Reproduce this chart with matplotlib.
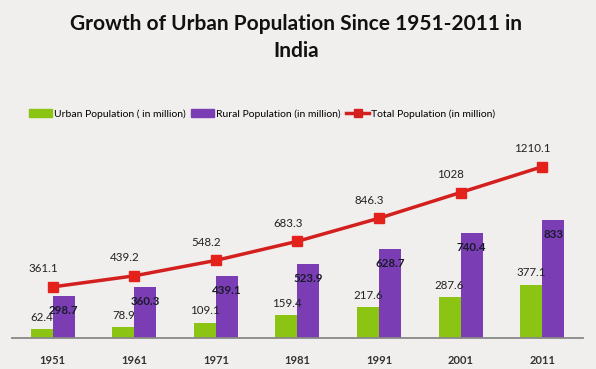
import matplotlib
matplotlib.use("Agg")
import numpy as np
from matplotlib import pyplot as plt
from matplotlib.patches import Patch
from matplotlib.lines import Line2D

# data
years = ["1951", "1961", "1971", "1981", "1991", "2001", "2011"]
urban = [62.4, 78.9, 109.1, 159.4, 217.6, 287.6, 377.1]
rural = [298.7, 360.3, 439.1, 523.9, 628.7, 740.4, 833]
total = [361.1, 439.2, 548.2, 683.3, 846.3, 1028, 1210.1]
urban_labels = ["62.4", "78.9", "109.1", "159.4", "217.6", "287.6", "377.1"]
rural_labels = ["298.7", "360.3", "439.1", "523.9", "628.7", "740.4", "833"]
total_labels = ["361.1", "439.2", "548.2", "683.3", "846.3", "1028", "1210.1"]

BG = "#f0efed"
GREEN = "#8cc414"
PURPLE = "#7a3db4"
RED = "#d41f1f"

plt.rcParams["font.family"] = ["Lato", "DejaVu Sans"]


def main():
    fig = plt.figure(figsize=(5.96, 3.69), dpi=100, facecolor=BG)
    ax = fig.add_axes([0.020, 0.084, 0.958, 0.537])
    ax.set_facecolor(BG)

    x = np.arange(len(years))
    w = 0.27
    ax.bar(x - w / 2, urban, width=w, color=GREEN, zorder=2)
    ax.bar(x + w / 2, rural, width=w, color=PURPLE, zorder=2)
    ax.plot(x, total, color=RED, lw=2.5, marker="s", markersize=7,
            markerfacecolor="#e3221b", markeredgecolor="#e3221b", zorder=3)

    for i in range(len(years)):
        ax.annotate(urban_labels[i], xy=(x[i] - w / 2, urban[i]), xytext=(0, 8.5),
                    textcoords="offset points", ha="center", va="center",
                    fontsize=8.3, color="#222222")
        ax.annotate(rural_labels[i], xy=(x[i] + w / 2, rural[i]), xytext=(0, -10.5),
                    textcoords="offset points", ha="center", va="center",
                    fontsize=8.3, color="#1a1a2a", fontweight="bold")
        ax.annotate(total_labels[i], xy=(x[i], total[i]), xytext=(-7, 13),
                    textcoords="offset points", ha="center", va="center",
                    fontsize=8.3, color="#222222")

    ax.set_xlim(-0.5, len(years) - 0.5)
    ax.set_ylim(0, 1400)
    ax.set_xticks(x)
    ax.set_xticklabels(years, fontsize=8, fontweight="bold", color="#333333")
    ax.tick_params(axis="x", length=0, pad=12)
    ax.set_yticks([])
    for s in ["top", "left", "right"]:
        ax.spines[s].set_visible(False)
    ax.spines["bottom"].set_color("#888888")
    ax.spines["bottom"].set_linewidth(1.3)

    fig.text(0.497, 0.935, "Growth of Urban Population Since 1951-2011 in",
             ha="center", va="center", fontsize=15, fontweight="bold", color="#111111")
    fig.text(0.497, 0.862, "India", ha="center", va="center",
             fontsize=15, fontweight="bold", color="#111111")

    handles = [
        Patch(color=GREEN, label="Urban Population ( in million)"),
        Patch(color=PURPLE, label="Rural Population (in million)"),
        Line2D([], [], color=RED, lw=2.5, marker="s", markersize=6,
               label="Total Population (in million)"),
    ]
    fig.legend(handles=handles, loc="center", bbox_to_anchor=(0.44, 0.691), ncol=3,
               frameon=False, fontsize=7.5, handlelength=2.2, handleheight=0.8,
               handletextpad=0.2, columnspacing=0.5)

    fig.savefig("out.png", dpi=100, facecolor=BG)


if __name__ == "__main__":
    main()
